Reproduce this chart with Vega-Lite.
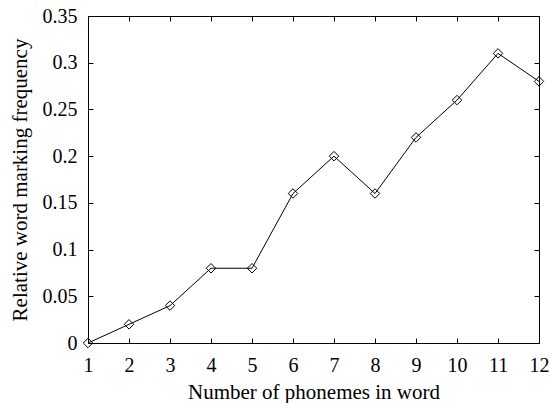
{
  "$schema": "https://vega.github.io/schema/vega-lite/v6.json",
  "autosize": "none",
  "width": 451,
  "height": 327,
  "padding": {"left": 88, "top": 16, "right": 11, "bottom": 60},
  "background": "white",
  "config": {
    "font": "Liberation Serif",
    "view": {"stroke": "black", "strokeWidth": 1},
    "axis": {
      "grid": false,
      "domain": false,
      "tickColor": "black",
      "tickSize": -5,
      "labelFont": "Liberation Serif",
      "labelFontSize": 20,
      "labelColor": "black",
      "titleFont": "Liberation Serif",
      "titleFontSize": 21,
      "titleFontWeight": "normal",
      "titleColor": "black"
    }
  },
  "data": {
    "values": [
      {"n": 1, "f": 0.0},
      {"n": 2, "f": 0.02},
      {"n": 3, "f": 0.04},
      {"n": 4, "f": 0.08},
      {"n": 5, "f": 0.08},
      {"n": 6, "f": 0.16},
      {"n": 7, "f": 0.2},
      {"n": 8, "f": 0.16},
      {"n": 9, "f": 0.22},
      {"n": 10, "f": 0.26},
      {"n": 11, "f": 0.31},
      {"n": 12, "f": 0.28}
    ]
  },
  "encoding": {
    "x": {"field": "n", "type": "quantitative", "scale": {"domain": [1, 12], "nice": false, "zero": false}},
    "y": {"field": "f", "type": "quantitative", "scale": {"domain": [0, 0.35], "nice": false}}
  },
  "layer": [
    {
      "mark": {"type": "line", "color": "black", "strokeWidth": 1},
      "encoding": {
        "x": {"field": "n", "type": "quantitative", "axis": {"orient": "bottom", "title": "Number of phonemes in word", "values": [1,2,3,4,5,6,7,8,9,10,11,12], "labelPadding": 17, "titlePadding": 6, "labelFlush": false, "labelOverlap": false}},
        "y": {"field": "f", "type": "quantitative", "axis": {"orient": "left", "title": "Relative word marking frequency", "values": [0,0.05,0.1,0.15,0.2,0.25,0.3,0.35], "labelPadding": 16, "titlePadding": 12, "labelFlush": false, "labelOverlap": false, "format": "~g"}}
      }
    },
    {
      "mark": {"type": "point", "shape": "diamond", "filled": false, "color": "black", "strokeWidth": 1, "size": 90, "opacity": 1},
      "encoding": {
        "x": {"field": "n", "type": "quantitative", "axis": {"orient": "top", "title": null, "labels": false, "values": [1,2,3,4,5,6,7,8,9,10,11,12]}},
        "y": {"field": "f", "type": "quantitative", "axis": {"orient": "right", "title": null, "labels": false, "values": [0,0.05,0.1,0.15,0.2,0.25,0.3,0.35]}}
      }
    }
  ],
  "resolve": {"axis": {"x": "independent", "y": "independent"}}
}
